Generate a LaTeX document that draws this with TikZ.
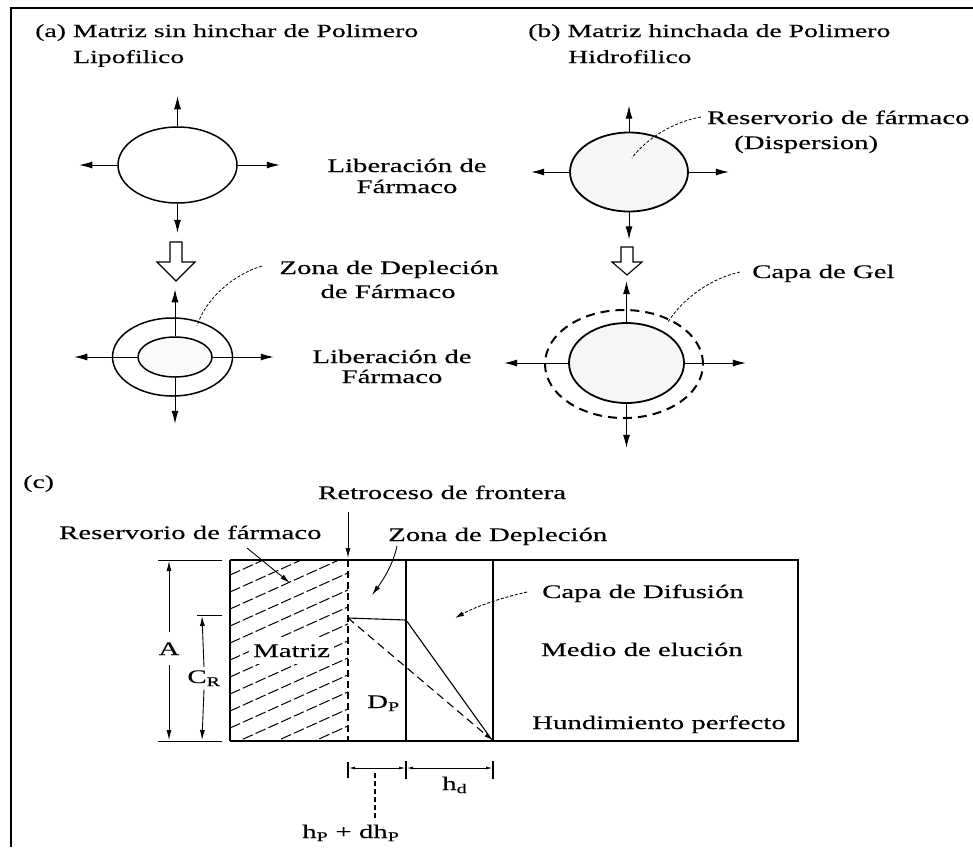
\documentclass[tikz,border=0pt]{standalone}
\usepackage{fontspec}
\setmainfont{Liberation Serif}[FakeStretch=1.5,FakeBold=0.3]
\usetikzlibrary{arrows.meta,shapes.geometric}
\begin{document}
\begin{tikzpicture}[x=1pt,y=-1pt,
 lbl/.style={inner sep=0pt, font=\fontsize{19.2}{22}\selectfont},
 ttl/.style={inner sep=0pt, font=\fontsize{18.5}{22}\selectfont},
 arr/.style={-{Latex[length=13pt,width=7pt]}, line width=1pt},
 sarr/.style={-{Latex[length=10pt,width=5pt]}, line width=0.9pt},
 blob/.style={draw, ellipse, inner sep=0pt, line width=1.5pt},
 lead/.style={dash pattern=on 3pt off 1.8pt, line width=0.8pt},
 hollow/.style={draw, line width=1.1pt, fill=white},
 hatch/.style={line width=1pt, dash pattern=on 11pt off 3pt},
 dimtip/.style={{Latex[length=6pt,width=3pt]}-{Latex[length=6pt,width=3pt]}, line width=0.7pt},
]
\useasboundingbox (0,0) rectangle (973,847);
\draw[line width=1.8pt] (11,847) -- (11,8) -- (973,8);

% ---------- titles
\node[ttl, anchor=base west] (ta1) at (35,37) {(a) Matriz sin hinchar de Polimero};
\node[ttl, anchor=base west] (ta2) at (73,63) {Lipofilico};
\node[ttl, anchor=base west] (tb1) at (528,37) {(b) Matriz hinchada de Polimero};
\node[ttl, anchor=base west] (tb2) at (568,63) {Hidrofilico};

% ---------- panel (a)
\node[blob, minimum width=119pt, minimum height=76pt] (e1) at (177.5,165) {};
\draw[arr] (e1.north) -- ++(0,-30);
\draw[arr] (e1.south) -- ++(0,29);
\draw[arr] (e1.west) -- ++(-38,0);
\draw[arr] (e1.east) -- ++(42,0);

\draw[hollow] (170,242) -- (182,242) -- (182,262) -- (195,262) -- (176,281) -- (157,262) -- (170,262) -- cycle;

\node[blob, minimum width=120pt, minimum height=78pt] (e2o) at (172.5,357) {};
\node[blob, fill=gray!4, minimum width=74pt, minimum height=40pt] (e2i) at (175,357) {};
\draw[arr] (e2i.north) -- ++(0,-47);
\draw[arr] (e2i.south) -- ++(0,46);
\draw[arr] (e2i.west) -- ++(-63,0);
\draw[arr] (e2i.east) -- ++(61,0);

\node[lbl, anchor=base] (lib1a) at (407,172) {Liberación de};
\node[lbl, anchor=base] (lib1b) at (407,193) {Fármaco};
\node[lbl, anchor=base] (zd1) at (389,274) {Zona de Depleción};
\node[lbl, anchor=base] (zd2) at (388,298) {de Fármaco};
\node[lbl, anchor=base] (lib2a) at (392,363) {Liberación de};
\node[lbl, anchor=base] (lib2b) at (392,383) {Fármaco};
\coordinate (zdend) at (197,326);
\draw[lead] (262,266) .. controls (232,275) and (205,300) .. (zdend);

% ---------- panel (b)
\node[blob, line width=1.8pt, fill=gray!7, minimum width=118pt, minimum height=79pt] (e3) at (629,172) {};
\draw[arr] (e3.north) -- ++(0,-26);
\draw[arr] (e3.south) -- ++(0,27);
\draw[arr] (e3.west) -- ++(-38,0);
\draw[arr] (e3.east) -- ++(40,0);
\node[lbl, anchor=base west] (rf1) at (707,124) {Reservorio de fármaco};
\node[lbl, anchor=base west] (rf2) at (734,149) {(Dispersion)};
\coordinate (rfend) at (632,158);
\draw[lead] (701,117) .. controls (672,122) and (645,140) .. (rfend);

\draw[hollow] (621,247) -- (633,247) -- (633,262) -- (642,262) -- (627,275) -- (612,262) -- (621,262) -- cycle;

\node[draw, ellipse, inner sep=0pt, line width=2pt, dash pattern=on 9pt off 6pt, minimum width=158pt, minimum height=108pt] (e4o) at (624,364) {};
\node[blob, line width=1.8pt, fill=gray!7, minimum width=115pt, minimum height=80pt] (e4) at (626.5,363) {};
\draw[arr] (e4.north) -- ++(0,-41);
\draw[arr] (e4.south) -- ++(0,44);
\draw[arr] (e4.west) -- ++(-64,0);
\draw[arr] (e4.east) -- ++(61,0);
\node[lbl, anchor=base west] (gel) at (752,278) {Capa de Gel};
\coordinate (gelend) at (668,322);
\draw[lead] (740,272) .. controls (712,278) and (683,298) .. (gelend);

% ---------- panel (c)
\node[ttl, anchor=base west] (tc) at (23,488) {(c)};
\node[lbl, anchor=base west] (retro) at (318,499) {Retroceso de frontera};
\node[lbl, anchor=base west] (resc) at (59,539) {Reservorio de fármaco};
\node[lbl, anchor=base west] (zdc) at (388,541) {Zona de Depleción};
\node[lbl, anchor=base west] (cdd) at (542,598) {Capa de Difusión};
\node[lbl, anchor=base west] (mde) at (541,656) {Medio de elución};
\node[lbl, anchor=base west] (hpf) at (532,729) {Hundimiento perfecto};

% hatching of the matrix
\begin{scope}
\clip (230,560) rectangle (348,741);
\foreach \k in {0,...,14} \draw[hatch] (230,575+17*\k) -- (350,575+17*\k-54);
\end{scope}
\node[lbl, anchor=base west, fill=white, inner xsep=4pt, inner ysep=7pt] (matriz) at (249,657) {Matriz};

% box
\draw[line width=1.4pt] (230,560) -- (798,560) -- (798,741) -- (230,741);
\draw[line width=2pt] (230,560) -- (230,741);
\draw[line width=2.2pt] (406,560) -- (406,741);
\draw[line width=1.4pt] (493,560) -- (493,741);
\draw[line width=1.1pt, dash pattern=on 7pt off 4pt] (348,560) -- (348,741);

% depletion profile
\coordinate (p0) at (348,618);
\coordinate (p1) at (406,620);
\coordinate (p2) at (492,740);
\draw[line width=1.1pt] (p0) -- (p1) -- (p2);
\draw[line width=1.1pt, dash pattern=on 8pt off 5pt, -{Latex[length=8pt,width=4pt]}] (p0) -- (p2);

% labels' arrows
\coordinate (rt) at (348,512);
\draw[sarr] (rt) -- (348,558);
\draw[sarr] (247,548) -- (290,583);
\draw[sarr] (397,546) .. controls (393,565) and (383,580) .. (372,595);
\draw[lead, line width=0.9pt, -{Latex[length=9pt,width=5pt]}] (527,592) .. controls (500,598) and (475,607) .. (455,618);

% left dimensions
\draw[line width=0.8pt] (158,560) -- (222,560);
\draw[line width=0.8pt] (158,741) -- (222,741);
\draw[line width=0.8pt] (197,615) -- (222,615);
\node[lbl, anchor=base, fill=white, inner xsep=2pt, inner ysep=10pt] (la) at (169,655) {A};
\draw[sarr] (la.north) -- (169,561);
\draw[sarr] (la.south) -- (169,740);
\node[lbl, anchor=base, fill=white, inner xsep=2pt, inner ysep=3pt] (lcr) at (204,683) {C\textsubscript{R}};
\draw[sarr] (lcr.north) -- (202,616);
\draw[sarr] (lcr.south) -- (202,740);

\node[lbl, anchor=base west] (dp) at (367,708) {D\textsubscript{P}};

% bottom dimensions
\draw[line width=1.1pt] (348,762) -- (348,778);
\draw[line width=2.2pt] (406,761) -- (406,779);
\draw[line width=1.1pt] (493,761) -- (493,779);
\draw[dimtip] (349,768) -- (405,768);
\draw[dimtip] (407,768) -- (492,768);
\node[lbl, anchor=base west] (hd) at (442,790) {h\textsubscript{d}};
\node[lbl, anchor=base west] (hp) at (302,838) {h\textsubscript{P} + dh\textsubscript{P}};
\coordinate (hptop) at (375,773);
\draw[line width=1.3pt, dash pattern=on 5pt off 3pt] (hptop) -- (375,820);
\end{tikzpicture}
\end{document}
